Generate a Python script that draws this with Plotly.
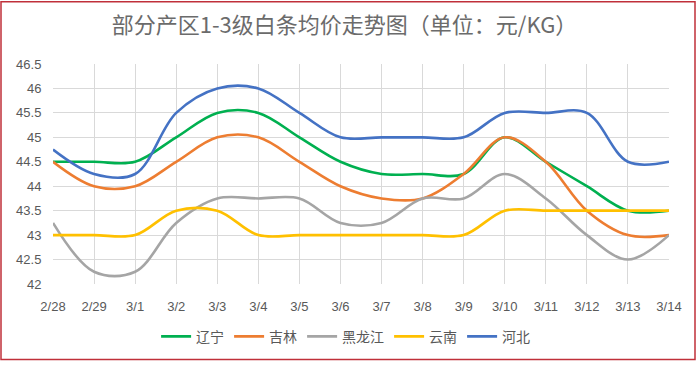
import plotly.graph_objects as go

dates = ["2/28", "2/29", "3/1", "3/2", "3/3", "3/4", "3/5", "3/6", "3/7", "3/8",
         "3/9", "3/10", "3/11", "3/12", "3/13", "3/14"]

liaoning = [44.5, 44.5, 44.5, 45.0, 45.5, 45.5, 45.0, 44.5, 44.25, 44.25, 44.25, 45.0, 44.5, 44.0, 43.5, 43.5]
jilin = [44.5, 44.0, 44.0, 44.5, 45.0, 45.0, 44.5, 44.0, 43.75, 43.75, 44.25, 45.0, 44.5, 43.5, 43.0, 43.0]
heilongjiang = [43.25, 42.25, 42.25, 43.25, 43.75, 43.75, 43.75, 43.25, 43.25, 43.75, 43.75, 44.25, 43.75, 43.0, 42.5, 43.0]
yunnan = [43.0, 43.0, 43.0, 43.5, 43.5, 43.0, 43.0, 43.0, 43.0, 43.0, 43.0, 43.5, 43.5, 43.5, 43.5, 43.5]
hebei = [44.75, 44.25, 44.25, 45.5, 46.0, 46.0, 45.5, 45.0, 45.0, 45.0, 45.0, 45.5, 45.5, 45.5, 44.5, 44.5]

series = [
    ("辽宁", liaoning, "#00B050"),
    ("吉林", jilin, "#ED7D31"),
    ("黑龙江", heilongjiang, "#A5A5A5"),
    ("云南", yunnan, "#FFC000"),
    ("河北", hebei, "#4472C4"),
]

fig = go.Figure()
for name, vals, color in series:
    fig.add_trace(go.Scatter(
        x=list(range(len(dates))), y=vals, name=name, mode="lines",
        line=dict(color=color, width=2.6, shape="spline", smoothing=1.0),
    ))

font_cjk = "Noto Sans CJK SC, Liberation Sans, sans-serif"

fig.update_layout(
    width=696, height=365,
    margin=dict(l=53, r=27, t=64, b=78),
    paper_bgcolor="white", plot_bgcolor="white",
    title=dict(text="部分产区1-3级白条均价走势图（单位：元/KG）",
               x=0.495, xanchor="center", xref="container", y=0.93, yanchor="middle",
               font=dict(family=font_cjk, size=22, color="#6B6B6B")),
    xaxis=dict(range=[0, 15], tickmode="array", tickvals=list(range(len(dates))),
               ticktext=dates, showgrid=True, gridcolor="#D9D9D9", gridwidth=1,
               zeroline=False, showline=False, ticks="outside", ticklen=10,
               tickcolor="rgba(0,0,0,0)",
               tickfont=dict(family="Liberation Sans, sans-serif", size=13, color="#595959")),
    yaxis=dict(range=[42, 46.5], dtick=0.5, showgrid=True, gridcolor="#D9D9D9",
               gridwidth=1, zeroline=False, showline=False, ticks="outside", ticklen=8,
               tickcolor="rgba(0,0,0,0)",
               tickformat="~g",
               tickfont=dict(family="Liberation Sans, sans-serif", size=13, color="#595959")),
    legend=dict(orientation="h", x=0.475, xanchor="center", y=-0.24, yanchor="middle",
                font=dict(family=font_cjk, size=14, color="#595959"),
                itemwidth=30),
    showlegend=True,
)

# outer border of the chart
fig.add_shape(type="rect", xref="paper", yref="paper",
              x0=(1 - 53) / 616, x1=(695 - 53) / 616,
              y0=(287 - 363.5) / 223, y1=(287 - 1) / 223,
              line=dict(color="#C0303A", width=1.5), fillcolor="rgba(0,0,0,0)")

fig.write_html("out.html", config={"displayModeBar": False})

with open("out.html", "r", encoding="utf-8") as f:
    html = f.read()
html = html.replace("<body>", "<body style=\"margin:0;padding:0;overflow:hidden\">", 1)
with open("out.html", "w", encoding="utf-8") as f:
    f.write(html)
